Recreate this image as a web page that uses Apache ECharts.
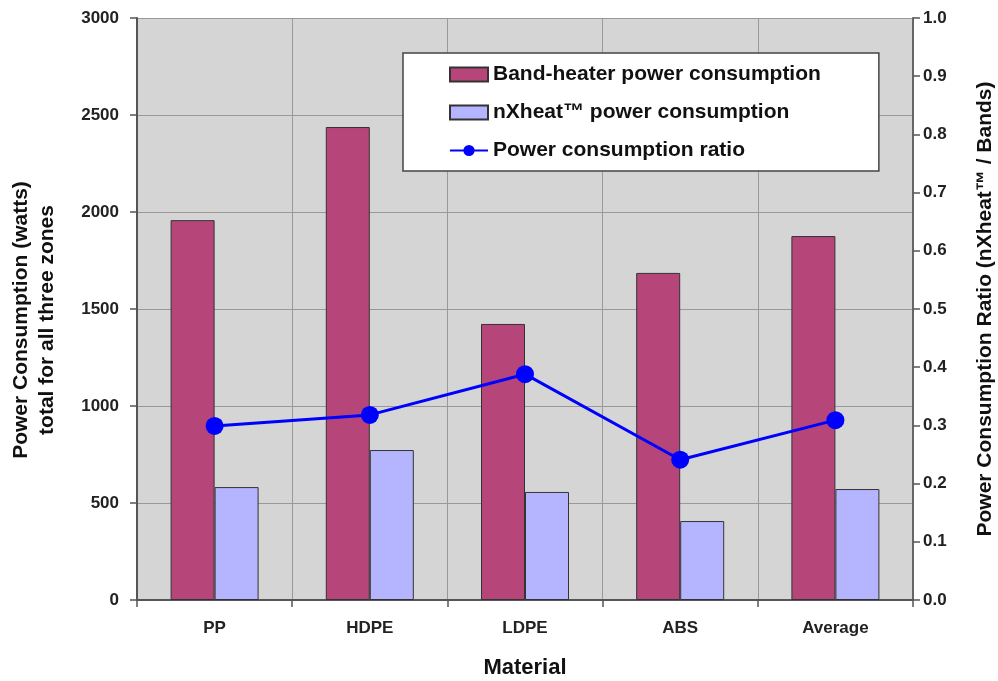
<!DOCTYPE html>
<html>
<head>
<meta charset="utf-8">
<script src="https://cdn.jsdelivr.net/npm/echarts@6/dist/echarts.min.js"></script>
<style>html,body{margin:0;padding:0;background:#fff;}#c{width:998px;height:681px;}</style>
</head>
<body>
<div id="c"></div>
<script>
const categories = ['PP', 'HDPE', 'LDPE', 'ABS', 'Average'];
const bandHeater = [1958, 2438, 1423, 1686, 1876];
const nxheat = [582, 773, 557, 407, 572];
const ratio = [0.299, 0.318, 0.388, 0.241, 0.309];
const leftTicks = { min: 0, max: 3000, interval: 500 };
const rightTicks = { min: 0, max: 1.0, interval: 0.1 };

const FONT = '"Liberation Sans", Arial, sans-serif';
const chart = echarts.init(document.getElementById('c'));
chart.setOption({
  backgroundColor: '#ffffff',
  animation: false,
  grid: { left: 137, right: 85, top: 18, bottom: 81, show: true, backgroundColor: '#d5d5d5', borderWidth: 0,
    containLabel: false, outerBoundsMode: 'none' },
  legend: {
    orient: 'vertical', left: 403, top: 53,
    backgroundColor: '#ffffff', borderColor: '#444', borderWidth: 1.5,
    padding: [11, 58, 10, 46],
    itemWidth: 38, itemHeight: 14, itemGap: 17,
    textStyle: { fontFamily: FONT, fontSize: 21, fontWeight: 'bold', color: '#111' },
    data: [
      { name: 'Band-heater power consumption', icon: 'rect' },
      { name: 'nXheat™ power consumption', icon: 'rect' },
      { name: 'Power consumption ratio' }
    ]
  },
  xAxis: {
    type: 'category', data: categories,
    name: 'Material', nameLocation: 'middle', nameGap: 57,
    nameTextStyle: { fontFamily: FONT, fontSize: 22, fontWeight: 'bold', color: '#111' },
    axisLine: { lineStyle: { color: '#555', width: 2 } },
    axisTick: { show: true, length: 7, lineStyle: { color: '#555', width: 1.5 } },
    axisLabel: { fontFamily: FONT, fontSize: 17, fontWeight: 'bold', color: '#222', margin: 20 },
    splitLine: { show: true, lineStyle: { color: '#999', width: 1 } }
  },
  yAxis: [
    {
      type: 'value', min: leftTicks.min, max: leftTicks.max, interval: leftTicks.interval,
      name: 'Power Consumption (watts)\ntotal for all three zones',
      nameLocation: 'middle', nameGap: 77, nameRotate: 90,
      nameTextStyle: { fontFamily: FONT, fontSize: 21, fontWeight: 'bold', color: '#111', lineHeight: 26,
        padding: [0, 22, 0, 0] },
      axisLine: { show: true, lineStyle: { color: '#555', width: 2 } },
      axisTick: { show: true, length: 7, lineStyle: { color: '#555', width: 1.5 } },
      axisLabel: { fontFamily: FONT, fontSize: 17, fontWeight: 'bold', color: '#222', margin: 18,
        formatter: v => String(v) },
      splitLine: { show: true, lineStyle: { color: '#999', width: 1 } }
    },
    {
      type: 'value', min: rightTicks.min, max: rightTicks.max, interval: rightTicks.interval,
      position: 'right',
      name: 'Power Consumption Ratio (nXheat™ / Bands)',
      nameLocation: 'middle', nameGap: 62, nameRotate: 90,
      nameTextStyle: { fontFamily: FONT, fontSize: 21, fontWeight: 'bold', color: '#111' },
      axisLine: { show: true, lineStyle: { color: '#666', width: 2 } },
      axisTick: { show: true, length: 7, lineStyle: { color: '#555', width: 1.5 } },
      axisLabel: { fontFamily: FONT, fontSize: 17, fontWeight: 'bold', color: '#222', margin: 10,
        formatter: v => v.toFixed(1) },
      splitLine: { show: false }
    }
  ],
  series: [
    {
      name: 'Band-heater power consumption', type: 'bar', data: bandHeater,
      barWidth: 44, barGap: '0%',
      itemStyle: { color: '#b6467a', borderColor: '#333', borderWidth: 1 }
    },
    {
      name: 'nXheat™ power consumption', type: 'bar', data: nxheat,
      barWidth: 44, barGap: '0%',
      itemStyle: { color: '#b4b4ff', borderColor: '#333', borderWidth: 1 }
    },
    {
      name: 'Power consumption ratio', type: 'line', yAxisIndex: 1, data: ratio,
      symbol: 'circle', symbolSize: 18,
      lineStyle: { color: '#0000ff', width: 3 },
      itemStyle: { color: '#0000ff' }
    }
  ]
});
</script>
</body>
</html>
